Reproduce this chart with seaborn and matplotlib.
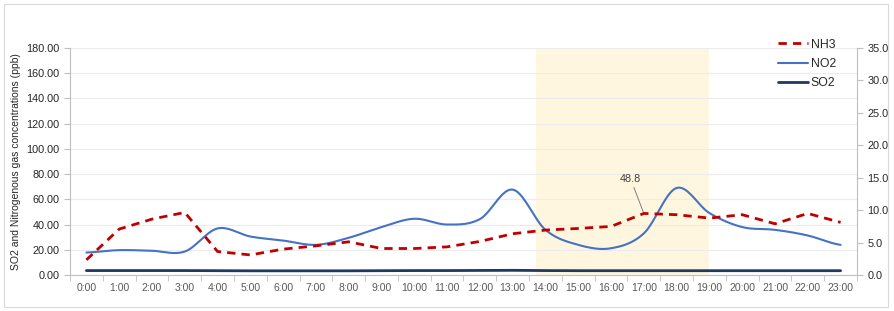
import numpy as np
import pandas as pd
import seaborn as sns
import matplotlib.pyplot as plt
from matplotlib.patches import FancyBboxPatch

# Data (ppb)
hours = [f"{h}:00" for h in range(24)]
nh3 = [12.0, 36.4, 44.3, 49.6, 18.6, 15.9, 20.5, 23.1, 26.3, 21.0, 21.0, 22.3,
       26.6, 32.7, 35.6, 36.9, 38.5, 48.8, 47.8, 45.1, 47.8, 40.6, 48.8, 41.7]
no2 = [17.8, 19.7, 19.2, 18.6, 36.9, 30.5, 27.3, 23.9, 29.5, 38.0, 44.6, 40.0,
       44.3, 67.7, 35.8, 23.9, 21.2, 33.0, 69.0, 49.1, 38.0, 35.8, 31.3, 23.9]
so2 = [3.5, 3.5, 3.5, 3.5, 3.4, 3.3, 3.3, 3.3, 3.3, 3.4, 3.5, 3.5,
       3.6, 3.7, 3.5, 3.4, 3.4, 3.4, 3.4, 3.4, 3.4, 3.4, 3.4, 3.4]
band_start, band_end = 13.7, 19.0
peak_hour = 17


def smooth(y, n=20):
    # Excel-like smoothed line (uniform Catmull-Rom through the points)
    y = np.asarray(y, dtype=float)
    p = np.concatenate([[y[0]], y, [y[-1]]])
    xs, ys = [], []
    for i in range(len(y) - 1):
        p0, p1, p2, p3 = p[i], p[i + 1], p[i + 2], p[i + 3]
        t = np.linspace(0, 1, n, endpoint=False)
        ys.append(0.5 * (2 * p1 + (-p0 + p2) * t + (2 * p0 - 5 * p1 + 4 * p2 - p3) * t ** 2
                         + (-p0 + 3 * p1 - 3 * p2 + p3) * t ** 3))
        xs.append(i + t)
    xs.append([len(y) - 1])
    ys.append([y[-1]])
    return np.concatenate(xs), np.concatenate(ys)


sns.set_style("white")
plt.rcParams['font.family'] = ['Liberation Sans', 'DejaVu Sans']

fig = plt.figure(figsize=(8.94, 3.11), dpi=100)
fig.patches.append(FancyBboxPatch((0.004, 0.012), 0.989, 0.976, boxstyle="square,pad=0",
                                  transform=fig.transFigure, fill=False,
                                  edgecolor="#d9d9d9", linewidth=0.8))
ax = fig.add_axes([0.0783, 0.1158, 0.8803, 0.7299])

grey = "#595959"
ax.axvspan(band_start, band_end, color="#fff6df", zorder=0, linewidth=0)

x_s, no2_s = smooth(no2)
df_nh3 = pd.DataFrame({"x": np.arange(24), "y": nh3})
df_no2 = pd.DataFrame({"x": x_s, "y": no2_s})
df_so2 = pd.DataFrame({"x": np.arange(24), "y": so2})

sns.lineplot(data=df_nh3, x="x", y="y", ax=ax, color="#c00000", linewidth=2,
             linestyle=(0, (3, 2.2)), label="NH3", zorder=4)
sns.lineplot(data=df_no2, x="x", y="y", ax=ax, color="#4472c4", linewidth=1.5,
             label="NO2", zorder=3)
sns.lineplot(data=df_so2, x="x", y="y", ax=ax, color="#1f3864", linewidth=2,
             label="SO2", zorder=3)

ax.annotate(f"{nh3[peak_hour]:.1f}", xy=(peak_hour, nh3[peak_hour]), xytext=(peak_hour - 0.4, 72),
            ha="center", va="bottom", fontsize=7.8, color="#404040",
            arrowprops=dict(arrowstyle="-", color="#7f7f7f", linewidth=0.7, shrinkA=0, shrinkB=0))

ax.set_xlim(-0.5, 23.5)
ax.set_ylim(0, 180)
ax.set_xticks(range(24))
ax.set_xticklabels(hours)
ax.set_xticks(np.arange(-0.5, 24, 1), minor=True)
ax.set_yticks(np.arange(0, 181, 20))
ax.set_yticklabels([f"{v:.2f}" for v in range(0, 181, 20)])
ax.tick_params(axis="x", which="major", length=0, labelsize=7.5, labelcolor=grey, pad=6)
ax.tick_params(axis="x", which="minor", length=4, color="#bfbfbf", bottom=True)
ax.tick_params(axis="y", length=4, color="#bfbfbf", labelsize=7.8, labelcolor="#262626", left=True)
ax.grid(axis="y", color="#ececec", linewidth=0.8)
ax.set_axisbelow(True)
ax.set_xlabel("")
ax.set_ylabel("SO2 and Nitrogenous gas concentrations (ppb)", fontsize=7.5, color="#262626", labelpad=4)
for side in ["top", "right"]:
    ax.spines[side].set_visible(False)
for side in ["left", "bottom"]:
    ax.spines[side].set_color("#bfbfbf")
    ax.spines[side].set_linewidth(0.8)

ax2 = ax.twinx()
ax2.set_ylim(0, 35)
ax2.set_yticks(np.arange(0, 36, 5))
ax2.set_yticklabels([f"{v:.1f}" for v in range(0, 36, 5)])
ax2.tick_params(axis="y", length=4, color="#bfbfbf", labelsize=7.8, labelcolor="#262626", right=True)
for side in ["top", "left", "bottom"]:
    ax2.spines[side].set_visible(False)
ax2.spines["right"].set_color("#bfbfbf")
ax2.spines["right"].set_linewidth(0.8)

leg = ax.legend(loc="upper right", bbox_to_anchor=(0.942, 0.895), bbox_transform=fig.transFigure,
                frameon=False, fontsize=8.8, handlelength=2.5, handletextpad=0.2,
                labelspacing=0.6, borderpad=0)

fig.savefig("out.png", dpi=100)
